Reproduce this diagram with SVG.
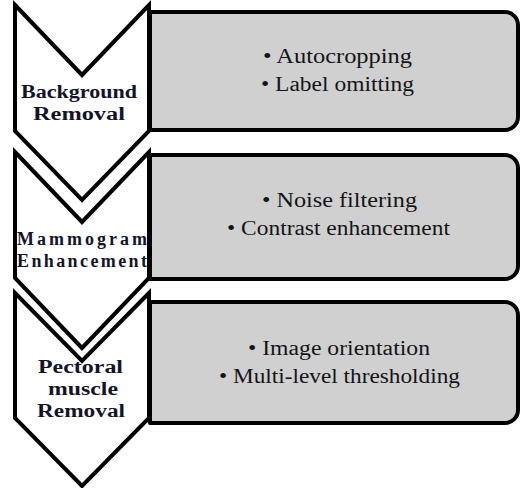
<svg xmlns="http://www.w3.org/2000/svg" width="521" height="488" viewBox="0 0 521 488">
<style>
.box{fill:#d0d0d0;stroke:#000;stroke-width:4;stroke-linejoin:round}
.chev{fill:#fff;stroke:#000;stroke-width:4;stroke-linejoin:miter}
.lbl{font-family:"Liberation Serif","Times New Roman",serif;font-weight:bold;font-size:18px;fill:#141428}
.item{font-family:"Liberation Serif","Times New Roman",serif;font-size:20px;fill:#141418}
</style>
<rect width="521" height="488" fill="#fff"/>
<g id="connectors"></g>
<g id="step1">
<path class="box" d="M150,12 H505 A13,13 0 0 1 518,25 V117 A13,13 0 0 1 505,130 H150 Z"/>
<path class="chev" d="M15,5 L82,75 L149,5 V131 L82,200 L15,131 Z"/>
<text class="lbl" x="21" y="98" textLength="116" lengthAdjust="spacingAndGlyphs">Background</text>
<text class="lbl" x="33" y="120" textLength="92" lengthAdjust="spacingAndGlyphs">Removal</text>
<text class="item" x="263" y="63" textLength="149" lengthAdjust="spacingAndGlyphs">• Autocropping</text>
<text class="item" x="261" y="91" textLength="153" lengthAdjust="spacingAndGlyphs">• Label omitting</text>
</g>
<g id="step2">
<path class="box" d="M150,155 H505 A13,13 0 0 1 518,168 V266 A13,13 0 0 1 505,279 H150 Z"/>
<path class="chev" d="M15,152 L82,222 L149,152 V278 L82,348 L15,278 Z"/>
<text class="lbl" x="17" y="245" textLength="130" lengthAdjust="spacing">Mammogram</text>
<text class="lbl" x="17" y="267" textLength="130" lengthAdjust="spacing">Enhancement</text>
<text class="item" x="262" y="207" textLength="155" lengthAdjust="spacingAndGlyphs">• Noise  filtering</text>
<text class="item" x="227" y="235" textLength="223" lengthAdjust="spacingAndGlyphs">• Contrast enhancement</text>
</g>
<g id="step3">
<path class="box" d="M150,302 H505 A13,13 0 0 1 518,315 V410 A13,13 0 0 1 505,423 H150 Z"/>
<path class="chev" d="M15,293 L82,361 L149,293 V418 L82,486 L15,418 Z"/>
<text class="lbl" x="38" y="373" textLength="85" lengthAdjust="spacingAndGlyphs">Pectoral</text>
<text class="lbl" x="48" y="395" textLength="70" lengthAdjust="spacingAndGlyphs">muscle</text>
<text class="lbl" x="37" y="417" textLength="88" lengthAdjust="spacingAndGlyphs">Removal</text>
<text class="item" x="248" y="355" textLength="182" lengthAdjust="spacingAndGlyphs">• Image  orientation</text>
<text class="item" x="219" y="383" textLength="241" lengthAdjust="spacingAndGlyphs">• Multi-level thresholding</text>
</g>
</svg>
